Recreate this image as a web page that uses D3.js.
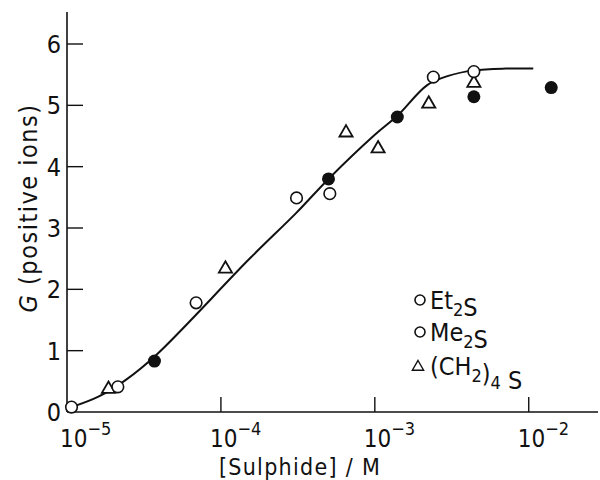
<!DOCTYPE html>
<html>
<head>
<meta charset="utf-8">
<script src="https://cdn.jsdelivr.net/npm/d3@7"></script>
<style>
  body { margin: 0; background: #fff; }
  svg { display: block; }
  text { font-family: "Liberation Sans Narrow", "DejaVu Sans Condensed", "Liberation Sans", sans-serif; fill: #111; }
</style>
</head>
<body>
<svg id="chart" width="600" height="480"></svg>
<script>
// Data //
// filled circles
const filledConc = [3.7e-5, 5.0e-4, 1.4e-3, 4.4e-3, 1.4e-2];
const filledG    = [0.83, 3.80, 4.81, 5.14, 5.29];
// open circles
const openConc = [1.07e-5, 2.14e-5, 6.9e-5, 3.1e-4, 5.1e-4, 2.4e-3, 4.4e-3];
const openG    = [0.08, 0.41, 1.78, 3.49, 3.56, 5.46, 5.55];
// triangles, (CH2)4S
const triConc = [1.86e-5, 1.07e-4, 6.5e-4, 1.05e-3, 2.24e-3, 4.4e-3];
const triG    = [0.39, 2.35, 4.57, 4.31, 5.04, 5.38];
// the drawn curve
const curveConc = [1.07e-5, 1.6e-5, 2.4e-5, 3.8e-5, 1.55e-4, 3.1e-4, 5.0e-4, 1.0e-3, 1.4e-3, 2.19e-3, 3.0e-3, 4.4e-3, 7.1e-3, 1.07e-2];
const curveG    = [0.08, 0.25, 0.52, 0.93, 2.51, 3.25, 3.8, 4.52, 4.83, 5.33, 5.48, 5.57, 5.6, 5.6];

const yTicks = [0, 1, 2, 3, 4, 5, 6];
const xTicks = [1e-5, 1e-4, 1e-3, 1e-2];
const xTickExp = ["-5", "-4", "-3", "-2"];

const svg = d3.select("#chart");

// Scales
const x = d3.scaleLog().domain([1e-5, Math.pow(10, -1.55)]).range([67, 598]);
const y = d3.scaleLinear().domain([0, 6]).range([412, 44]);

const ink = "#111";

// Axes lines
svg.append("line").attr("x1", x(1e-5)).attr("x2", x(1e-5)).attr("y1", 12).attr("y2", y(0))
    .attr("stroke", ink).attr("stroke-width", 1.6);
svg.append("line").attr("x1", x(1e-5)).attr("x2", 598).attr("y1", y(0)).attr("y2", y(0))
    .attr("stroke", ink).attr("stroke-width", 1.4);

// y ticks (inside)
const yt = svg.append("g");
yt.selectAll("line").data(yTicks.slice(1)).enter().append("line")
    .attr("x1", x(1e-5)).attr("x2", x(1e-5) + 16)
    .attr("y1", d => y(d)).attr("y2", d => y(d))
    .attr("stroke", ink).attr("stroke-width", 1.4);
yt.selectAll("text").data(yTicks).enter().append("text")
    .attr("x", 61).attr("y", d => y(d) + 9)
    .attr("text-anchor", "end").attr("font-size", 25)
    .text(d => d);

// x ticks (inside)
const xt = svg.append("g");
xt.selectAll("line").data(xTicks.slice(1)).enter().append("line")
    .attr("x1", d => x(d)).attr("x2", d => x(d))
    .attr("y1", y(0)).attr("y2", y(0) - 15)
    .attr("stroke", ink).attr("stroke-width", 1.4);
xTicks.forEach(function(d, i) {
    const t = xt.append("text")
        .attr("x", x(d) - 11 + (i === 0 ? 4 : 0)).attr("y", 447)
        .attr("font-size", 24);
    t.append("tspan").text("10");
    t.append("tspan").attr("dy", -12).attr("font-size", 18).text(xTickExp[i].replace("-", "\u2212"));
});

// axis titles
svg.append("text").attr("x", 300).attr("y", 475).attr("text-anchor", "middle")
    .attr("font-size", 23).attr("letter-spacing", 1.3)
    .text("[Sulphide] / M");

const yl = svg.append("text")
    .attr("transform", "translate(37,208) rotate(-90)")
    .attr("text-anchor", "middle").attr("font-size", 25).attr("letter-spacing", 1.5);
yl.append("tspan").attr("font-style", "italic").text("G");
yl.append("tspan").text(" (positive ions)");

// Curve
const line = d3.line()
    .x(d => x(d[0])).y(d => y(d[1]))
    .curve(d3.curveCatmullRom.alpha(0.5));
svg.append("path")
    .datum(d3.zip(curveConc, curveG))
    .attr("d", line)
    .attr("fill", "none").attr("stroke", ink).attr("stroke-width", 2);

// Markers
const tri = d3.symbol().type(d3.symbolTriangle).size(75);

svg.append("g").selectAll("path").data(d3.zip(triConc, triG)).enter().append("path")
    .attr("d", tri)
    .attr("transform", d => "translate(" + x(d[0]) + "," + (y(d[1]) + 1) + ")")
    .attr("fill", "#fff").attr("stroke", ink).attr("stroke-width", 1.8);

svg.append("g").selectAll("circle").data(d3.zip(openConc, openG)).enter().append("circle")
    .attr("cx", d => x(d[0])).attr("cy", d => y(d[1])).attr("r", 5.8)
    .attr("fill", "#fff").attr("stroke", ink).attr("stroke-width", 1.6);

svg.append("g").selectAll("circle").data(d3.zip(filledConc, filledG)).enter().append("circle")
    .attr("cx", d => x(d[0])).attr("cy", d => y(d[1])).attr("r", 6.5)
    .attr("fill", ink);

// Legend
const lg = svg.append("g");
lg.append("circle").attr("cx", 420).attr("cy", 300).attr("r", 5)
    .attr("fill", "#fff").attr("stroke", ink).attr("stroke-width", 1.6);
lg.append("circle").attr("cx", 420).attr("cy", 332).attr("r", 5)
    .attr("fill", "#fff").attr("stroke", ink).attr("stroke-width", 1.6);
lg.append("path").attr("d", d3.symbol().type(d3.symbolTriangle).size(55))
    .attr("transform", "translate(418,367)")
    .attr("fill", "#fff").attr("stroke", ink).attr("stroke-width", 1.4);

function legendText(yPos, parts) {
    const t = lg.append("text").attr("x", 430).attr("y", yPos).attr("font-size", 25);
    parts.forEach(function(p) {
        if (p.sub) {
            t.append("tspan").attr("dy", 7).attr("font-size", 18).text(p.s);
            t.append("tspan").attr("dy", -7).text("");
        } else {
            t.append("tspan").text(p.s);
        }
    });
}
legendText(309, [{s: "Et"}, {s: "2", sub: true}, {s: "S"}]);
legendText(341, [{s: "Me"}, {s: "2", sub: true}, {s: "S"}]);
legendText(375, [{s: "(CH"}, {s: "2", sub: true}, {s: ")"}, {s: "4", sub: true}, {s: " S"}]);
</script>
</body>
</html>
